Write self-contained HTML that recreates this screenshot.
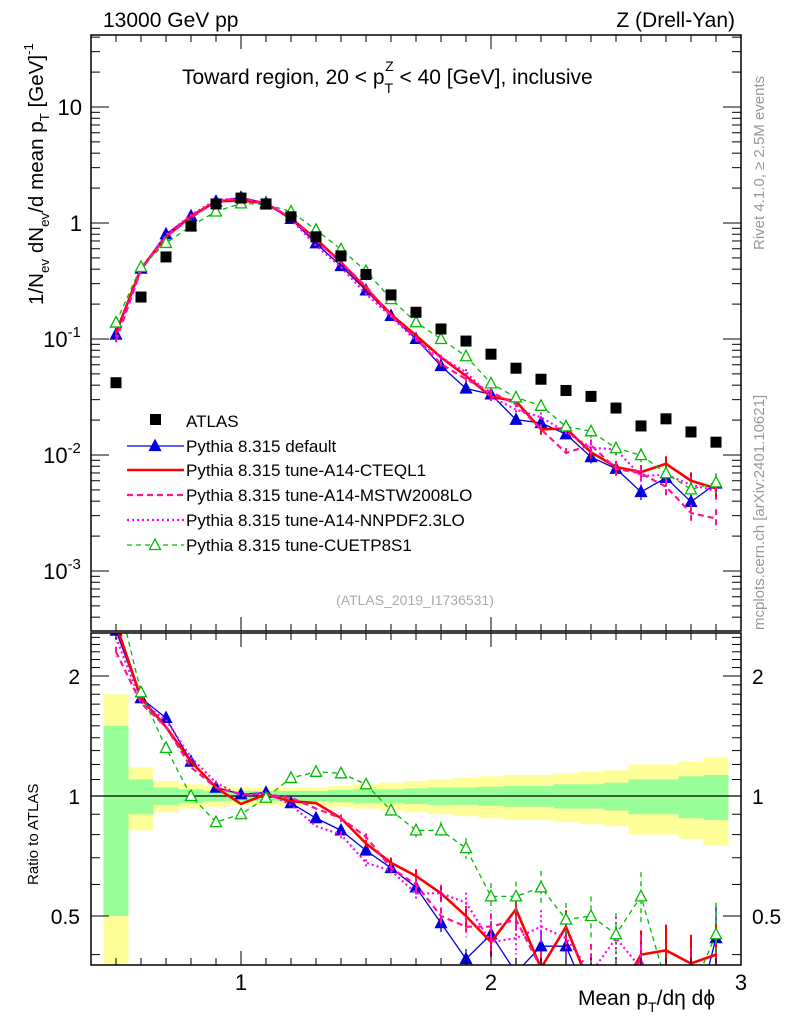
<!DOCTYPE html>
<html><head><meta charset="utf-8"><style>
html,body{margin:0;padding:0;background:#fff;overflow:hidden;width:786px;height:1024px;}
svg{display:block;font-family:"Liberation Sans",Arial,sans-serif;}
</style></head><body>
<svg id="c" width="786" height="1024" viewBox="0 0 786 1024" xmlns="http://www.w3.org/2000/svg">
<rect width="786" height="1024" fill="#fff"/>
<g id="bands"></g>
<g id="series"></g>
<g id="axes"></g>
<text x="103" y="27" font-size="21">13000 GeV pp</text>
<text x="735" y="27" font-size="21" text-anchor="end">Z (Drell-Yan)</text>
<text x="182" y="84" font-size="21">Toward region, 20 &lt; p<tspan dy="9" font-size="14">T</tspan><tspan dx="-8" dy="-22" font-size="14">Z</tspan><tspan dy="13"> &lt; 40 [GeV], inclusive</tspan></text>
<text x="415" y="605" font-size="14" fill="#aaa" text-anchor="middle">(ATLAS_2019_I1736531)</text>
<text transform="translate(764,250) rotate(-90)" font-size="15" fill="#999">Rivet 4.1.0, ≥ 2.5M events</text>
<text transform="translate(764,630) rotate(-90)" font-size="15" fill="#999">mcplots.cern.ch [arXiv:2401.10621]</text>
<text transform="translate(43,305) rotate(-90)" font-size="20" textLength="262" lengthAdjust="spacingAndGlyphs">1/N<tspan dy="6" font-size="13">ev</tspan><tspan dy="-6"> dN</tspan><tspan dy="6" font-size="13">ev</tspan><tspan dy="-6">/d mean p</tspan><tspan dy="6" font-size="13">T</tspan><tspan dy="-6"> [GeV]</tspan><tspan dy="-10" font-size="13">-1</tspan></text>
<text transform="translate(38,885) rotate(-90)" font-size="15">Ratio to ATLAS</text>
<text x="578" y="1005" font-size="21">Mean p<tspan dy="7" font-size="14">T</tspan><tspan dy="-7">/dη dϕ</tspan></text>
<g id="legend"></g>
</svg>
<script>
const xs=[0.5,0.6,0.7,0.8,0.9,1.0,1.1,1.2,1.3,1.4,1.5,1.6,1.7,1.8,1.9,2.0,2.1,2.2,2.3,2.4,2.5,2.6,2.7,2.8,2.9];
const atlas=[0.042,0.23,0.51,0.94,1.46,1.64,1.46,1.13,0.76,0.52,0.36,0.24,0.17,0.122,0.096,0.074,0.056,0.045,0.036,0.032,0.0254,0.0178,0.0205,0.0158,0.0129];
const statUnc=[0.5,0.10,0.05,0.04,0.03,0.03,0.03,0.03,0.03,0.035,0.04,0.04,0.045,0.05,0.05,0.055,0.06,0.06,0.07,0.07,0.08,0.10,0.10,0.12,0.13];
const totUnc=[0.8,0.18,0.09,0.07,0.06,0.05,0.05,0.05,0.05,0.06,0.07,0.08,0.09,0.10,0.11,0.12,0.13,0.13,0.14,0.15,0.16,0.20,0.20,0.22,0.25];
const rDefault=[2.6,1.76,1.57,1.22,1.05,1.01,1.02,0.96,0.88,0.82,0.73,0.66,0.59,0.48,0.39,0.45,0.36,0.42,0.42,0.3,0.30,0.27,0.31,0.25,0.44];
const rCteq=[2.7,1.76,1.49,1.22,1.05,0.955,1.01,0.97,0.96,0.88,0.76,0.68,0.63,0.57,0.50,0.43,0.52,0.37,0.47,0.33,0.31,0.40,0.41,0.38,0.40];
const rMstw=[2.3,1.71,1.49,1.18,1.05,1.01,1.01,0.99,0.93,0.88,0.79,0.66,0.60,0.50,0.47,0.47,0.49,0.37,0.29,0.38,0.30,0.39,0.26,0.20,0.22];
const rNnpdf=[2.5,1.72,1.55,1.25,1.08,1.0,1.02,0.95,0.84,0.80,0.68,0.65,0.57,0.57,0.54,0.43,0.44,0.47,0.44,0.36,0.44,0.37,0.33,0.35,0.38];
const rCuet=[3.3,1.82,1.32,1.0,0.86,0.90,0.99,1.11,1.15,1.14,1.07,0.92,0.82,0.82,0.74,0.56,0.56,0.59,0.49,0.50,0.45,0.56,0.34,0.32,0.45];
const mcErr=[0.03,0.01,0.01,0.01,0.01,0.01,0.01,0.01,0.01,0.02,0.02,0.03,0.04,0.05,0.06,0.08,0.09,0.1,0.1,0.12,0.13,0.15,0.16,0.18,0.2];
const majorY=[10,1,0.1,0.01,0.001];
const ratioTicks=[2,1,0.5];
const xTicks=[1,2,3];

const NS="http://www.w3.org/2000/svg";
const L=91,R=741,MT=35,MB=631,RT=633,RB=965;
const X=v=>241+(v-1)*250;
const Y=v=>223-116*Math.log10(v);
const YR=r=>796-120*Math.log2(r);
function mk(tag,at,parent){const e=document.createElementNS(NS,tag);for(const k in at)e.setAttribute(k,at[k]);parent.appendChild(e);return e;}
const bands=document.getElementById('bands'),ser=document.getElementById('series'),ax=document.getElementById('axes'),leg=document.getElementById('legend');

const defs=mk('defs',{},document.getElementById('c'));
const c1=mk('clipPath',{id:'cm'},defs);mk('rect',{x:L,y:MT,width:R-L,height:MB-MT},c1);
const c2=mk('clipPath',{id:'cr'},defs);mk('rect',{x:L,y:RT,width:R-L,height:RB-RT},c2);
bands.setAttribute('clip-path','url(#cr)');

xs.forEach((x,i)=>{
  const x0=X(x-0.05),w=X(x+0.05)-x0;
  const yb=mk('rect',{x:x0,y:YR(1+totUnc[i]),width:w,height:YR(Math.max(1-totUnc[i],0.05))-YR(1+totUnc[i]),fill:'#ffff99'},bands);
  
  
  const gb=mk('rect',{x:x0,y:YR(1+statUnc[i]),width:w,height:YR(1-statUnc[i])-YR(1+statUnc[i]),fill:'#99ff99'},bands);
  
  
});
mk('line',{x1:L,x2:R,y1:YR(1),y2:YR(1),stroke:'#000','stroke-width':1.3},bands);

const series=[
 {name:'default',r:rDefault,col:'#0000dd',w:1.3,dash:'',mark:'tri',fill:true,label:'Pythia 8.315 default'},
 {name:'cteql1',r:rCteq,col:'#ff0000',w:2.6,dash:'',mark:null,label:'Pythia 8.315 tune-A14-CTEQL1'},
 {name:'mstw2008lo',r:rMstw,col:'#ff1493',w:2.2,dash:'6,4',mark:null,label:'Pythia 8.315 tune-A14-MSTW2008LO'},
 {name:'nnpdf23lo',r:rNnpdf,col:'#ff00ff',w:2.2,dash:'2,3',mark:null,label:'Pythia 8.315 tune-A14-NNPDF2.3LO'},
 {name:'cuetp8s1',r:rCuet,col:'#00bb00',w:1.3,dash:'5,4',mark:'tri',fill:false,label:'Pythia 8.315 tune-CUETP8S1'}
];
function tri(g,x,y,s,fillOn){const p=mk('polygon',{points:`${x},${y-6} ${x-5.5},${y+4.5} ${x+5.5},${y+4.5}`,fill:fillOn?s.col:'#fff',stroke:s.col,'stroke-width':1.3},g);return p;}
function drawSeries(s,panel){
  const g=mk('g',{'clip-path':panel?'url(#cr)':'url(#cm)'},ser);
  
  
  const yf=i=>panel?YR(s.r[i]):Y(s.r[i]*atlas[i]);
  const pts=xs.map((x,i)=>X(x)+','+yf(i)).join(' ');
  const pl=mk('polyline',{points:pts,fill:'none',stroke:s.col,'stroke-width':s.w,'stroke-dasharray':s.dash},g);
  
  
  xs.forEach((x,i)=>{
    const e=mcErr[i];
    const v=panel?s.r[i]:s.r[i]*atlas[i];
    const f=panel?YR:Y;
    if(e>0.015){
      const b=mk('line',{x1:X(x),x2:X(x),y1:f(v*(1+e)),y2:f(v*(1-e)),stroke:s.col,'stroke-width':Math.min(s.w,2),'stroke-dasharray':s.dash},g);
      
      
    }
    if(s.mark){const m=tri(g,X(x),f(v),s,s.fill);
      
      }
  });
}
series.forEach(s=>{drawSeries(s,false);drawSeries(s,true);});
const ag=mk('g',{'clip-path':'url(#cm)'},ser);


xs.forEach((x,i)=>{const r=mk('rect',{x:X(x)-5.5,y:Y(atlas[i])-5.5,width:11,height:11,fill:'#000'},ag);
  
  });

[[MT,MB],[RT,RB]].forEach(([t,b])=>{const f=mk('rect',{x:L,y:t,width:R-L,height:b-t,fill:'none',stroke:'#000','stroke-width':1.5},ax);
  
  });
for(let k=4;k<=30;k++){const v=k/10;const x=X(v);const big=(k%10===0);const len=big?14:7;
  [[MT,1],[MB,-1],[RT,1],[RB,-1]].forEach(([y,d])=>mk('line',{x1:x,x2:x,y1:y,y2:y+d*len,stroke:'#000','stroke-width':1},ax));}
xTicks.forEach(v=>{const t=mk('text',{x:X(v),y:990,'font-size':22,'text-anchor':'middle'},ax);t.textContent=v;
  
  });
for(let e=-4;e<=1;e++){for(let m=1;m<=9;m++){const v=m*Math.pow(10,e);const y=Y(v);if(y<MT||y>MB)continue;const len=m===1?18:9;
  mk('line',{x1:L,x2:L+len,y1:y,y2:y,stroke:'#000'},ax);mk('line',{x1:R,x2:R-len,y1:y,y2:y,stroke:'#000'},ax);}}
majorY.forEach(v=>{const y=Y(v);const t=mk('text',{x:82,y:y+8,'font-size':22,'text-anchor':'end'},ax);
  
  
  const e=Math.round(Math.log10(v));
  if(e===1)t.textContent='10';else if(e===0)t.textContent='1';
  else{t.innerHTML='10<tspan dy="-10" font-size="15">'+e+'</tspan>';t.setAttribute('x',62);t.setAttribute('text-anchor','middle');}});
for(let k=4;k<=25;k++){const v=k/10;const y=YR(v);if(y<RT||y>RB)continue;const len=(v===1||v===2||v===0.5)?18:9;
  mk('line',{x1:L,x2:L+len,y1:y,y2:y,stroke:'#000'},ax);mk('line',{x1:R,x2:R-len,y1:y,y2:y,stroke:'#000'},ax);}
ratioTicks.forEach(v=>{[[80,'end'],[752,'start']].forEach(([x,a])=>{const t=mk('text',{x:x,y:YR(v)+8,'font-size':21,'text-anchor':a},ax);t.textContent=v;
  
  });});

const ly=[420,446,470,495,520,545];
const a0=mk('rect',{x:150,y:ly[0]-6,width:11,height:11,fill:'#000'},leg);


const at=mk('text',{x:186,y:ly[0]+7,'font-size':17},leg);at.textContent='ATLAS';


series.forEach((s,i)=>{const y=ly[i+1];
  mk('line',{x1:127,x2:184,y1:y,y2:y,stroke:s.col,'stroke-width':s.w,'stroke-dasharray':s.dash},leg);
  if(s.mark)tri(leg,155,y,s,s.fill);
  const t=mk('text',{x:186,y:y+6,'font-size':17},leg);t.textContent=s.label;
  
  });
</script>
</body></html>
